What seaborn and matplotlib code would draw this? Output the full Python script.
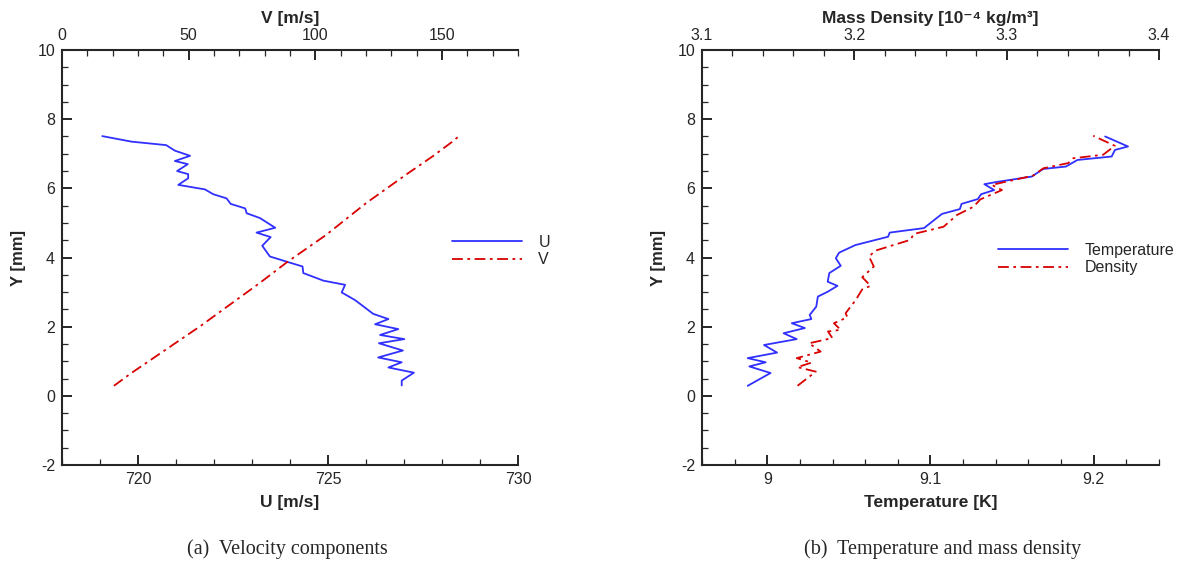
import matplotlib
matplotlib.use("Agg")
import matplotlib.pyplot as plt
from matplotlib.ticker import MultipleLocator, FormatStrFormatter
import seaborn as sns

# (a) composantes de vitesse : U (axe bas) et V (axe haut) en fonction de Y
y_u = [7.51, 7.35, 7.25, 7.09, 6.94, 6.79, 6.70, 6.50, 6.41, 6.29, 6.10, 5.97,
       5.83, 5.71, 5.55, 5.42, 5.28, 5.14, 4.86, 4.72, 4.59, 4.34, 4.03, 3.88,
       3.74, 3.55, 3.33, 3.21, 2.99, 2.77, 2.37, 2.22, 2.07, 1.93, 1.76, 1.64,
       1.52, 1.31, 1.11, 0.97, 0.82, 0.67, 0.44, 0.30]
u_vals = [719.06, 719.83, 720.74, 720.97, 721.37, 720.97, 721.31, 721.03, 721.32,
          721.32, 721.06, 721.76, 721.98, 722.33, 722.44, 722.82, 722.86, 723.21,
          723.61, 723.12, 723.49, 723.27, 723.47, 723.91, 724.33, 724.35, 724.88,
          725.45, 725.36, 725.71, 726.19, 726.59, 726.24, 726.85, 726.37, 727.01,
          726.34, 726.97, 726.32, 726.94, 726.59, 727.26, 726.94, 726.94]
y_v = [0.29, 0.66, 2.00, 3.26, 3.88, 4.65, 5.57, 6.39, 6.92, 7.35, 7.51]
v_vals = [20.5, 27.4, 54.3, 78.0, 89.1, 104.2, 120.0, 135.7, 146.2, 154.1, 156.7]

# (b) température (axe bas) et masse volumique (axe haut)
y_temp = [0.29, 0.66, 0.85, 0.97, 1.09, 1.25, 1.47, 1.64, 1.81, 1.96, 2.10, 2.22,
          2.34, 2.58, 2.87, 3.01, 3.18, 3.30, 3.55, 3.76, 3.98, 4.14, 4.36, 4.60,
          4.72, 4.85, 5.26, 5.40, 5.55, 5.69, 5.83, 5.95, 6.12, 6.18, 6.34, 6.56,
          6.63, 6.82, 6.92, 7.11, 7.21, 7.50]
temp_vals = [8.988, 9.002, 8.989, 8.999, 8.988, 9.006, 8.998, 9.018, 9.010, 9.023,
             9.015, 9.027, 9.026, 9.030, 9.031, 9.037, 9.043, 9.037, 9.038, 9.045,
             9.042, 9.044, 9.054, 9.074, 9.075, 9.096, 9.107, 9.118, 9.119, 9.129,
             9.131, 9.139, 9.133, 9.140, 9.162, 9.169, 9.183, 9.190, 9.211, 9.213,
             9.221, 9.207]
y_dens = [0.29, 0.70, 0.83, 0.96, 1.09, 1.28, 1.52, 1.67, 1.86, 1.91, 2.10, 2.27,
          2.39, 2.77, 3.08, 3.18, 3.43, 3.74, 4.03, 4.20, 4.51, 4.68, 4.89, 5.23,
          5.47, 5.68, 5.95, 6.10, 6.37, 6.58, 6.73, 6.87, 6.97, 7.23, 7.52]
dens_vals = [3.1627, 3.1747, 3.1627, 3.1719, 3.1622, 3.1779, 3.1703, 3.1856, 3.1827,
             3.1910, 3.1866, 3.1954, 3.1943, 3.2009, 3.2052, 3.2107, 3.2052, 3.2128,
             3.2096, 3.2139, 3.2368, 3.2390, 3.2586, 3.2674, 3.2783, 3.2827, 3.2969,
             3.2903, 3.3175, 3.3241, 3.3404, 3.3437, 3.3633, 3.3710, 3.3568]

BLEU = "#3030ff"
ROUGE = "#d80000"
TIRET_POINT = (0, (6, 2.5, 1.5, 2.5))

sns.set_style("ticks")
plt.rcParams['font.family'] = ['Liberation Sans', 'DejaVu Sans']
plt.rcParams['axes.linewidth'] = 1.5
plt.rcParams['axes.unicode_minus'] = False


# Fonction pour mettre en forme un panneau (axe principal + axe du haut)
def styliser(ax, ax_haut):
    ax.spines['right'].set_visible(False)
    ax.spines['top'].set_visible(False)
    ax_haut.spines['right'].set_visible(False)
    ax_haut.spines['left'].set_visible(False)
    ax_haut.spines['bottom'].set_visible(False)
    ax.set_ylim(-2, 10)
    ax.yaxis.set_major_locator(MultipleLocator(2))
    ax.yaxis.set_minor_locator(MultipleLocator(0.5))
    for a in (ax, ax_haut):
        a.tick_params(which='both', direction='in', labelsize=11.5, pad=5)
        a.tick_params(which='major', length=7, width=1.4)
        a.tick_params(which='minor', length=4, width=0.9)
        a.xaxis.set_major_formatter(FormatStrFormatter('%g'))
    ax.tick_params(which='both', top=False, right=False)
    ax_haut.tick_params(which='both', bottom=False, left=False, right=False)
    ax.set_ylabel("Y [mm]", fontsize=12, fontweight='bold', labelpad=8)


fig = plt.figure(figsize=(11.88, 5.68), dpi=100)
ax1 = fig.add_axes([62 / 1188, 1 - 465 / 568, 456 / 1188, 415 / 568])
ax1h = ax1.twiny()
ax2 = fig.add_axes([702 / 1188, 1 - 465 / 568, 457 / 1188, 415 / 568])
ax2h = ax2.twiny()

# Panneau (a)
sns.lineplot(x=u_vals, y=y_u, sort=False, estimator=None, ax=ax1,
             color=BLEU, lw=1.3, label="U")
sns.lineplot(x=v_vals, y=y_v, sort=False, estimator=None, ax=ax1h,
             color=ROUGE, lw=1.3, linestyle=TIRET_POINT, label="V")
ax1.set_xlim(718, 730)
ax1.xaxis.set_major_locator(MultipleLocator(5))
ax1.xaxis.set_minor_locator(MultipleLocator(1))
ax1h.set_xlim(0, 180)
ax1h.xaxis.set_major_locator(MultipleLocator(50))
ax1h.xaxis.set_minor_locator(MultipleLocator(10))
ax1.set_xlabel("U [m/s]", fontsize=12.5, fontweight='bold', labelpad=6)
ax1h.set_xlabel("V [m/s]", fontsize=12.5, fontweight='bold', labelpad=4)
styliser(ax1, ax1h)

# Panneau (b)
sns.lineplot(x=temp_vals, y=y_temp, sort=False, estimator=None, ax=ax2,
             color=BLEU, lw=1.3, label="Temperature")
sns.lineplot(x=dens_vals, y=y_dens, sort=False, estimator=None, ax=ax2h,
             color=ROUGE, lw=1.3, linestyle=TIRET_POINT, label="Density")
ax2.set_xlim(8.96, 9.24)
ax2.xaxis.set_major_locator(MultipleLocator(0.1))
ax2.xaxis.set_minor_locator(MultipleLocator(0.02))
ax2h.set_xlim(3.1, 3.4)
ax2h.xaxis.set_major_locator(MultipleLocator(0.1))
ax2h.xaxis.set_minor_locator(MultipleLocator(0.02))
ax2.set_xlabel("Temperature [K]", fontsize=12.5, fontweight='bold', labelpad=6)
ax2h.set_xlabel("Mass Density [10⁻⁴ kg/m³]", fontsize=12.5, fontweight='bold', labelpad=4)
styliser(ax2, ax2h)

# Légendes sans cadre, à droite de chaque panneau
for ax, axh, x0, yc in ((ax1, ax1h, 452, 251), (ax2, ax2h, 998, 259)):
    h1, l1 = ax.get_legend_handles_labels()
    h2, l2 = axh.get_legend_handles_labels()
    for a in (ax, axh):
        if a.get_legend() is not None:
            a.get_legend().remove()
    fig.legend(h1 + h2, l1 + l2, loc='center left',
               bbox_to_anchor=(x0 / 1188, 1 - yc / 568), frameon=False,
               borderaxespad=0, borderpad=0, handlelength=4.4,
               handletextpad=1.0, labelspacing=0.15, fontsize=11.5)

# Sous-titres
fig.text(287 / 1188, 1 - 549 / 568, "(a)  Velocity components", ha='center',
         va='center', fontsize=14.5, family=['Liberation Serif', 'DejaVu Serif'])
fig.text(943 / 1188, 1 - 549 / 568, "(b)  Temperature and mass density", ha='center',
         va='center', fontsize=14.5, family=['Liberation Serif', 'DejaVu Serif'])

fig.savefig("out.png", dpi=100)
